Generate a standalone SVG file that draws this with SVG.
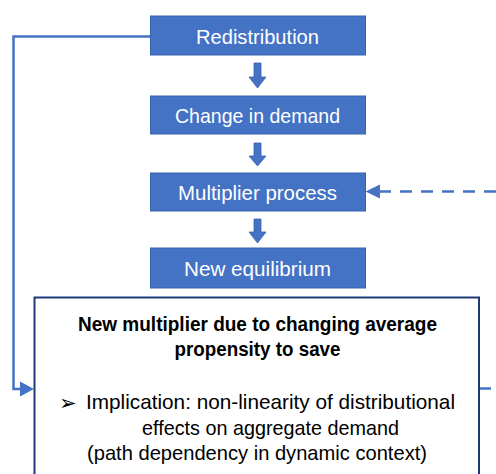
<svg xmlns="http://www.w3.org/2000/svg" width="496" height="474" viewBox="0 0 496 474">
<style>
.box{fill:#4472C4;stroke:#3A63AE;stroke-width:1}
.lbl{font-family:"Liberation Sans",Arial,sans-serif;font-size:21px;fill:#fff;text-anchor:middle}
.conn{fill:none;stroke:#4472C4;stroke-width:2.5}
.head{fill:#4472C4}
.t{font-family:"Liberation Sans",Arial,sans-serif;font-size:21px;fill:#000}
.b{font-weight:bold;font-size:20px;text-anchor:middle}
</style>
<rect width="496" height="474" fill="#fff"/>
<g id="connectors">
<path class="conn" d="M150,36.5 H13.5 V389 H22"/>
<polygon class="head" points="20,381.5 34,389 20,396.5"/>
<line class="conn" x1="496" y1="191.5" x2="380" y2="191.5" stroke-dasharray="12 9"/>
<polygon class="head" points="365.5,191.5 380,184.5 380,198.5"/>
<line class="conn" x1="479" y1="388.5" x2="491" y2="388.5"/>
<polygon class="head" stroke="#3A63AE" stroke-width="0.8" points="254,63 261,63 261,77 266,77 257.5,88 249,77 254,77"/>
<polygon class="head" stroke="#3A63AE" stroke-width="0.8" points="254,143 261,143 261,156 266,156 257.5,166 249,156 254,156"/>
<polygon class="head" stroke="#3A63AE" stroke-width="0.8" points="254,219 261,219 261,232 266,232 257.5,243 249,232 254,232"/>
</g>
<g id="redistribution">
<rect class="box" x="150.5" y="16" width="215" height="39"/>
<text class="lbl" x="257.5" y="43.5" textLength="123" lengthAdjust="spacingAndGlyphs">Redistribution</text>
</g>
<g id="change-in-demand">
<rect class="box" x="150.5" y="96" width="215" height="38"/>
<text class="lbl" x="257.5" y="122.5" textLength="165" lengthAdjust="spacingAndGlyphs">Change in demand</text>
</g>
<g id="multiplier-process">
<rect class="box" x="150.5" y="173" width="215" height="38"/>
<text class="lbl" x="257.5" y="199.5" textLength="159" lengthAdjust="spacingAndGlyphs">Multiplier process</text>
</g>
<g id="new-equilibrium">
<rect class="box" x="150.5" y="248" width="215" height="40"/>
<text class="lbl" x="257.5" y="275.5" textLength="147" lengthAdjust="spacingAndGlyphs">New equilibrium</text>
</g>
<g id="new-multiplier">
<rect x="34.5" y="297.5" width="444.5" height="190" fill="#fff" stroke="#1F3A78" stroke-width="2"/>
<text class="t b" x="257.5" y="330.5" textLength="359" lengthAdjust="spacingAndGlyphs">New multiplier due to changing average</text>
<text class="t b" x="257.5" y="355.5" textLength="166" lengthAdjust="spacingAndGlyphs">propensity to save</text>
<text class="t" x="59" y="410" font-family="DejaVu Sans, sans-serif" font-size="23">➢</text>
<text class="t" x="86" y="408.5" textLength="369" lengthAdjust="spacingAndGlyphs">Implication: non-linearity of distributional</text>
<text class="t" x="142" y="434.5" textLength="257" lengthAdjust="spacingAndGlyphs">effects on aggregate demand</text>
<text class="t" x="87" y="459.5" textLength="340" lengthAdjust="spacingAndGlyphs">(path dependency in dynamic context)</text>
</g>
</svg>
